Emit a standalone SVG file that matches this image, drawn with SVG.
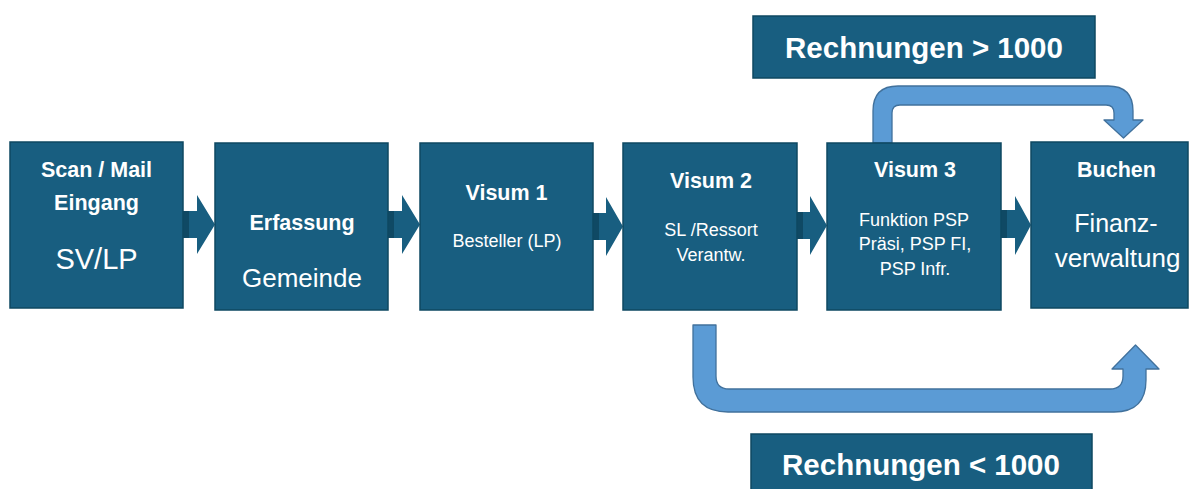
<svg xmlns="http://www.w3.org/2000/svg" width="1190" height="489" viewBox="0 0 1190 489">
<style>
.box{fill:#185e80;stroke:#0e4861;stroke-width:1.5}
.chev{fill:#185e80}
.chevd{fill:#0f4964}
.curve{fill:#5b9bd5;stroke:#41719c;stroke-width:1.3;stroke-linejoin:round}
text{font-family:"Liberation Sans",Arial,sans-serif;fill:#ffffff;text-anchor:middle}
.h{font-weight:bold;font-size:21.5px}
.s{font-size:18px}
.m{font-size:25px}
.lbl{font-weight:bold;font-size:29.5px}
</style>
<rect width="1190" height="489" fill="#ffffff"/>
<g id="connectors">
  <g id="c1"><path class="chev" d="M183,211 L197,211 L197,195 L215,224.5 L197,254 L197,238 L183,238 Z"/><rect class="chevd" x="183" y="211" width="6" height="27"/></g>
  <g id="c2"><path class="chev" d="M388,211 L402,211 L402,195 L420,224.5 L402,254 L402,238 L388,238 Z"/><rect class="chevd" x="388" y="211" width="6" height="27"/></g>
  <g id="c3"><path class="chev" d="M593,213 L606,213 L606,197 L623,226.5 L606,256 L606,240 L593,240 Z"/><rect class="chevd" x="593" y="213" width="6" height="27"/></g>
  <g id="c4"><path class="chev" d="M797,212 L810,212 L810,196 L827,225.5 L810,255 L810,239 L797,239 Z"/><rect class="chevd" x="797" y="212" width="6" height="27"/></g>
  <g id="c5"><path class="chev" d="M1001,210 L1015,210 L1015,196 L1031,225 L1015,255 L1015,238 L1001,238 Z"/><rect class="chevd" x="1001" y="210" width="6" height="28"/></g>
  <path id="over" class="curve" d="M873,143 L873,111 Q873,86 898,86 L1108,86 Q1133,86 1133,111 L1133,120 L1143,120 L1123.5,138 L1104,120 L1114,120 L1114,113 Q1114,105 1106,105 L900,105 Q892,105 892,113 L892,143 Z"/>
  <path id="under" class="curve" d="M693,325 L716,325 L716,376 Q716,389 729,389 L1110,389 Q1123,389 1123,376 L1123,369 L1112,369 L1135.5,345 L1159,369 L1146,369 L1146,380 Q1146,412 1114,412 L728,412 Q693,412 693,377 Z"/>
</g>
<g id="n1"><rect class="box" x="10" y="142" width="173" height="166"/>
  <text class="h" x="96.5" y="177">Scan / Mail</text>
  <text class="h" x="96.5" y="210">Eingang</text>
  <text x="96.5" y="269" style="font-size:29px">SV/LP</text></g>
<g id="n2"><rect class="box" x="215" y="143" width="173" height="167"/>
  <text class="h" x="302" y="230">Erfassung</text>
  <text x="302" y="287" style="font-size:26px">Gemeinde</text></g>
<g id="n3"><rect class="box" x="420" y="143" width="173" height="167"/>
  <text class="h" x="506.5" y="200">Visum 1</text>
  <text class="s" x="507" y="247">Besteller (LP)</text></g>
<g id="n4"><rect class="box" x="623" y="143" width="174" height="167"/>
  <text class="h" x="711" y="188">Visum 2</text>
  <text class="s" x="711" y="236">SL /Ressort</text>
  <text class="s" x="711" y="261">Verantw.</text></g>
<g id="n5"><rect class="box" x="827" y="143" width="174" height="167"/>
  <text class="h" x="915" y="177">Visum 3</text>
  <text class="s" x="914" y="226">Funktion PSP</text>
  <text class="s" x="915" y="250">Präsi, PSP FI,</text>
  <text class="s" x="915" y="275">PSP Infr.</text></g>
<g id="n6"><rect class="box" x="1031" y="142" width="157" height="166"/>
  <text class="h" x="1116.5" y="177">Buchen</text>
  <text x="1116" y="232" style="font-size:25px">Finanz-</text>
  <text x="1117.5" y="267" style="font-size:26px">verwaltung</text></g>
<g id="l1"><rect class="box" x="753" y="16" width="342" height="62"/>
  <text class="lbl" x="924" y="58">Rechnungen &gt; 1000</text></g>
<g id="l2"><rect class="box" x="751" y="434" width="341" height="62"/>
  <text class="lbl" x="921" y="475">Rechnungen &lt; 1000</text></g>
</svg>
